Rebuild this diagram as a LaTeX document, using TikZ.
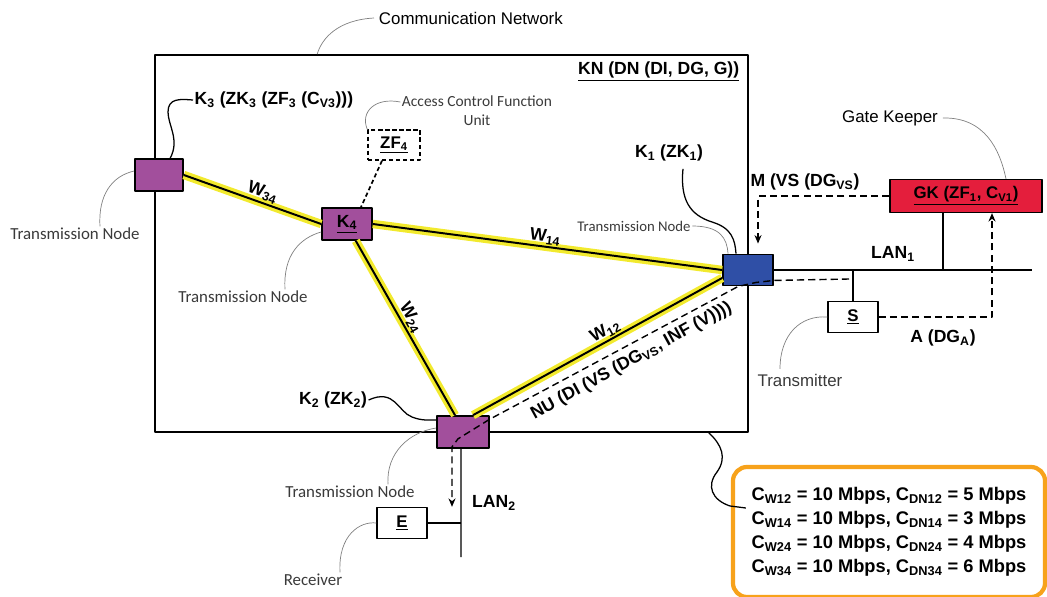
\documentclass[tikz,border=0pt]{standalone}
\usepackage{fontspec}
\setmainfont{Liberation Sans}
\newfontfamily\notefont{Carlito}
\usetikzlibrary{arrows.meta, positioning, calc}
\definecolor{knpurple}{HTML}{A24F9C}
\definecolor{knblue}{HTML}{2F4FA6}
\definecolor{gkred}{HTML}{E41E3C}
\definecolor{wyellow}{HTML}{F2EA2E}
\definecolor{legorange}{HTML}{F7A21B}
\definecolor{notegray}{HTML}{3A3A3A}
\newcommand{\sbs}[1]{\textsubscript{#1}}

\begin{document}
\begin{tikzpicture}[x=0.025cm, y=-0.025cm, >=Stealth, line join=round,
  tnode/.style={draw, line width=1.2pt, fill=knpurple, minimum width=1.25cm, minimum height=0.8cm, inner sep=0pt},
  box/.style={draw, line width=1pt, fill=white, minimum width=1.25cm, minimum height=0.78cm, inner sep=0pt, font=\bfseries\fontsize{12}{14}\selectfont},
  lbl/.style={font=\bfseries\fontsize{12.5}{15}\selectfont, inner sep=1pt},
  note/.style={font=\notefont\fontsize{12}{14}\selectfont, text=notegray, inner sep=1pt},
  lead/.style={line width=0.5pt, gray},
  wire/.style={line width=1pt},
  wlink/.style={line width=1.4pt, preaction={draw=wyellow, line width=6pt}},
  sig/.style={line width=1pt, dash pattern=on 5pt off 3pt},
]
  \useasboundingbox (0,0) rectangle (1047,597);

  % Kommunikationsnetz
  \node[draw, line width=1.1pt, minimum width=14.825cm, minimum height=9.425cm, inner sep=0pt] (kn) at (451.5,243.5) {};
  \node[lbl, anchor=north east] (knlab) at ($(kn.north east)+(-8,6)$) {\underline{KN (DN (DI, DG, G))}};
  \node[font=\fontsize{12}{14}\selectfont, anchor=west] (cnlab) at (374,18) {Communication Network};
  \draw[lead] ($(kn.north west)+(163,0)$) .. controls (322,38) and (338,20) .. (cnlab.west);

  % Knoten
  \node[tnode, minimum width=1.2cm] (k3) at (159,175) {};
  \node[tnode, font=\bfseries\fontsize{12.5}{15}\selectfont] (k4) at (347,224) {\underline{K\sbs{4}}};
  \node[tnode, fill=knblue, minimum height=0.78cm] (k1) at (748,270) {};
  \node[tnode, minimum width=1.3cm] (k2) at (463,432) {};
  \node[box, dash pattern=on 3pt off 2pt, minimum width=1.3cm, minimum height=0.75cm] (zf) at (394,145) {\underline{ZF\sbs{4}}};
  \node[box, fill=gkred, minimum width=3.8cm, minimum height=0.82cm] (gk) at (966,196) {\underline{GK (ZF\sbs{1}, C\sbs{V1})}};
  \node[box] (s) at (853,317) {\underline{S}};
  \node[box] (e) at (402,523) {\underline{E}};

  % Verbindungen W
  \draw[wlink] (k3.east) -- node[lbl, sloped, above, pos=0.55] {W\sbs{34}} (k4.west);
  \draw[wlink] (k4.east) -- node[lbl, sloped, above, pos=0.49] {W\sbs{14}} (k1.west);
  \draw[wlink] ([xshift=0.22cm]k4.south) -- node[lbl, sloped, above, pos=0.47] {W\sbs{24}} ([xshift=-0.2cm]k2.north);
  \draw[wlink] ([xshift=0.25cm]k2.north) -- node[lbl, sloped, above, pos=0.55] {W\sbs{12}}
    node[lbl, sloped, below=13pt, pos=0.58] {NU (DI (VS (DG\sbs{VS}, INF (V))))} ([yshift=-0.2cm]k1.west);
  \draw[line width=1.2pt, dash pattern=on 3pt off 2pt] ([xshift=-0.3cm]zf.south) -- ([xshift=0.35cm]k4.north);

  % LAN 1 / LAN 2
  \coordinate (lan1end) at (1032,270);
  \coordinate (lan2end) at (461,557);
  \coordinate (gkstub) at ($(gk.south)+(-23,0)$);
  \draw[wire] (k1.east) -- (k1.east -| lan1end);
  \draw[wire] (gkstub) -- (gkstub |- k1.east);
  \draw[wire] (s.north) -- (s.north |- k1.east);
  \draw[wire] ([xshift=-0.05cm]k2.south) -- (lan2end);
  \draw[wire] (e.east) -- (e.east -| lan2end);
  \node[lbl] (lan1lab) at (893,254) {LAN\sbs{1}};
  \node[lbl] (lan2lab) at (494,503) {LAN\sbs{2}};

  % Nachrichten
  \draw[sig, -{Stealth[length=6pt, width=5pt]}] (gk.west) -| ([xshift=0.25cm, yshift=0.25cm]k1.north);
  \node[lbl] (mlab) at (805,182) {M (VS (DG\sbs{VS})};
  \draw[sig, -{Stealth[length=6pt, width=5pt]}] (s.east) -| ([xshift=0.65cm]gk.south);
  \node[lbl] (alab) at (943,338) {A (DG\sbs{A})};
  \coordinate (sj) at (849,279);
  \draw[sig, -{Stealth[length=6pt, width=5pt]}] (sj) -- ($(k1.south east)+(0,-6)$) -- ($(k1.south)+(8,-4)$)
    -- ($(k1.south west)+(16,0)$) -- ([yshift=-0.1cm]k2.north east) -- ($(k2.south)+(-5,-10)$)
    -- ($(k2.south)+(-11,-2)$) -- ($(k2.south)+(-11,58)$);

  % Bezeichnungen der Knoten
  \node[lbl, anchor=west] (k3lab) at (193,100) {K\sbs{3} (ZK\sbs{3} (ZF\sbs{3} (C\sbs{V3})))};
  \draw[line width=0.9pt] ([xshift=0.28cm]k3.north) .. controls (180,140) and (168,125) .. (168,112)
    .. controls (168,98) and (180,99) .. (k3lab.west);
  \node[lbl] (k1lab) at (669,153) {K\sbs{1} (ZK\sbs{1})};
  \draw[line width=0.9pt] ($(k1lab.south)+(14,6)$) .. controls (680,200) and (690,215) .. (712,222)
    .. controls (732,228) and (735,240) .. ([xshift=-0.3cm]k1.north);
  \node[lbl] (k2lab) at (333,400) {K\sbs{2} (ZK\sbs{2})};
  \draw[line width=0.9pt] (k2lab.east) .. controls (395,388) and (398,412) .. (412,417)
    .. controls (422,421) and (430,420) .. ([yshift=0.3cm]k2.west);

  % Hinweise
  \node[note] (tn3) at (75,234) {Transmission Node};
  \draw[lead] ($(tn3.north)+(25,0)$) .. controls (98,195) and (112,176) .. ([yshift=0.1cm]k3.west);
  \node[note] (tn4) at (243,297) {Transmission Node};
  \draw[lead] ($(tn4.north)+(42,0)$) .. controls (283,255) and (300,238) .. ([yshift=-0.2cm]k4.west);
  \node[note, font=\notefont\fontsize{10.5}{12}\selectfont] (tn1) at (634,226) {Transmission Node};
  \draw[lead] (tn1.east) .. controls (720,226) and (727,238) .. ([xshift=-0.5cm]k1.north);
  \node[note] (tn2) at (350,492) {Transmission Node};
  \draw[lead] ($(tn2.north)+(38,0)$) .. controls (386,452) and (410,432) .. ([yshift=0.1cm]k2.west);
  \node[note, font=\notefont\fontsize{11}{13.5}\selectfont, align=center] (acf) at (477,111) {Access Control Function\\Unit};
  \draw[lead] (zf.north west) .. controls (360,112) and (375,97) .. ($(acf.west)+(0,-9)$);
  \node[note] (rcv) at (313,580) {Receiver};
  \draw[lead] ($(rcv.north)+(27,0)$) .. controls (338,535) and (360,521) .. (e.west);
  \node[font=\fontsize{12}{14}\selectfont, text=notegray] (tx) at (800,380) {Transmitter};
  \draw[lead] ($(tx.north)+(-20,0)$) .. controls (780,335) and (800,315) .. (s.west);
  \node[font=\fontsize{12}{14}\selectfont] (gklab) at (890,118) {Gate Keeper};
  \draw[lead] (gklab.east) .. controls (985,117) and (1000,150) .. ([xshift=1cm]gk.north);

  % Kapazitaeten
  \node[draw=legorange, line width=3pt, rounded corners=10pt, minimum width=7.8cm, minimum height=3.25cm,
    inner sep=0pt, align=left, font=\bfseries\fontsize{13}{17}\selectfont] (leg) at (889,532)
    {C\sbs{W12} = 10 Mbps, C\sbs{DN12} = 5 Mbps\\
     C\sbs{W14} = 10 Mbps, C\sbs{DN14} = 3 Mbps\\
     C\sbs{W24} = 10 Mbps, C\sbs{DN24} = 4 Mbps\\
     C\sbs{W34} = 10 Mbps, C\sbs{DN34} = 6 Mbps};
  \draw[line width=0.9pt] ($(kn.south east)+(-40,0)$) .. controls (722,445) and (727,458) .. (717,472)
    .. controls (706,486) and (712,500) .. (730,506) -- ($(leg.west)+(15,-24)$);
\end{tikzpicture}
\end{document}
